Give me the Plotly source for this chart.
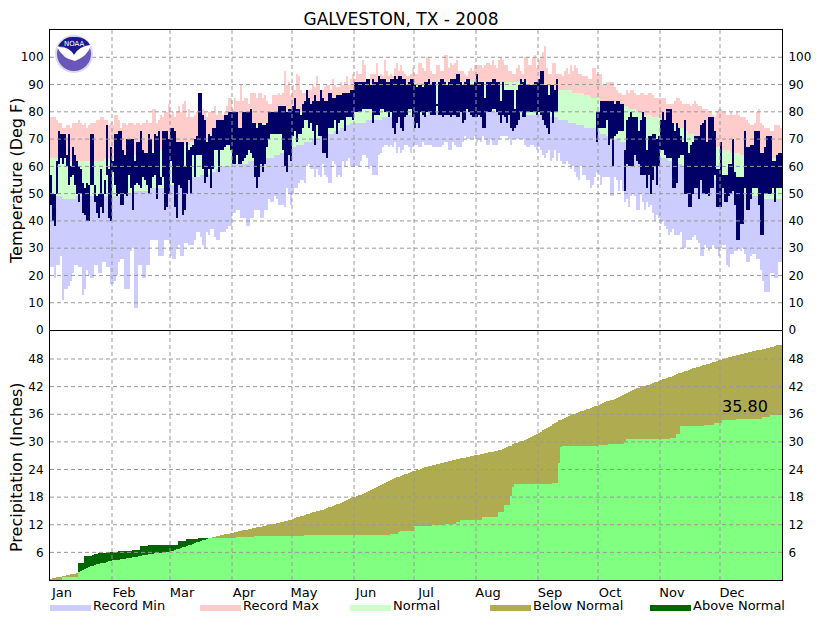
import numpy as np
import plotly.graph_objects as go

FONT = "DejaVu Sans"
W, H = 832, 620
LEFT, RIGHT, TOP, MID, BOTTOM = 50, 782, 30, 330, 580

months = ["Jan", "Feb", "Mar", "Apr", "May", "Jun", "Jul", "Aug", "Sep", "Oct", "Nov", "Dec"]
month_days = [31, 29, 31, 30, 31, 30, 31, 31, 30, 31, 30, 31]
temp_ticks = [0, 10, 20, 30, 40, 50, 60, 70, 80, 90, 100]
precip_ticks = [6, 12, 18, 24, 30, 36, 42, 48]
precip_total = "35.80"
legend_items = [("Record Min", "#CCCCFF", 50), ("Record Max", "#FFCCCC", 200), ("Normal", "#CCFFCC", 350),
                ("Below Normal", "#AFAB50", 490), ("Above Normal", "#006600", 650)]

record_max = [
    78,78,78,77,76,76,74,74,75,75,74,76,76,76,77,76,75,76,74,75,76,76,76,77,77,78,78,77,77,75,76,
    75,79,79,77,74,76,76,75,76,76,76,75,76,76,75,76,76,77,76,76,81,81,76,77,79,78,80,80,83,
    79,80,78,80,82,80,83,84,78,81,78,78,79,80,82,80,81,80,78,80,80,80,82,79,80,80,79,80,82,85,85,
    81,85,84,84,90,84,85,85,83,87,87,87,85,87,87,85,86,84,83,83,86,86,86,87,86,87,95,90,91,86,
    90,88,94,93,88,87,87,85,88,88,90,89,93,90,87,88,89,90,90,88,92,90,89,89,91,90,91,93,90,92,94,
    92,95,94,94,99,97,92,92,94,94,94,98,93,94,93,99,95,93,94,93,96,98,95,97,95,94,93,93,94,96,
    94,94,98,98,96,95,100,100,95,94,94,97,97,95,95,101,101,96,98,97,98,99,95,95,95,94,93,95,96,95,97,
    97,97,97,96,97,98,98,97,99,97,96,99,100,99,97,97,95,95,94,94,96,97,95,94,100,100,97,97,100,101,96,
    99,100,102,104,96,94,94,98,98,94,94,94,93,95,96,94,97,95,97,96,94,94,93,93,93,92,92,96,96,94,
    94,94,90,90,91,91,91,91,89,88,87,87,86,86,88,87,88,88,87,86,86,87,87,86,86,87,87,86,85,85,85,
    85,85,85,83,83,83,83,84,85,85,84,83,83,83,83,82,83,84,83,82,82,81,81,81,80,80,79,78,80,81,
    81,80,80,79,79,80,79,79,80,79,78,78,78,77,76,75,75,76,80,81,76,75,74,74,74,73,73,75,75,75,74,
]
record_min = [
    23,23,19,24,24,27,11,15,15,16,18,21,24,24,23,23,13,15,22,20,19,19,24,24,21,21,25,25,23,23,17,
    17,18,20,25,26,26,15,15,15,29,30,8,8,24,24,19,19,24,24,33,33,33,33,27,27,27,33,33,33,
    27,26,26,30,31,27,27,32,32,31,31,31,33,36,36,34,31,30,36,35,37,37,34,33,33,36,36,36,37,38,38,
    43,43,44,44,41,41,41,38,38,41,41,44,44,44,41,41,44,44,48,47,47,49,48,46,46,46,45,52,50,46,
    50,52,52,54,55,55,54,60,61,59,59,56,59,57,56,61,57,56,54,54,62,61,56,57,56,62,60,62,63,60,60,
    60,60,60,62,64,64,63,59,60,57,57,57,64,65,67,68,68,67,68,67,69,65,67,65,66,68,68,67,65,67,
    68,68,67,67,69,68,68,68,68,67,67,67,67,67,68,69,69,66,66,69,68,67,67,67,69,71,70,70,70,70,71,
    69,70,69,71,70,68,68,70,68,68,68,70,71,71,71,71,70,68,70,70,70,70,70,70,68,67,67,68,68,67,66,
    67,66,64,63,65,66,62,63,66,62,65,62,61,61,62,61,59,60,58,56,55,60,57,57,55,55,52,53,56,58,
    57,53,56,56,56,56,49,49,56,55,51,55,51,47,48,45,49,50,49,44,44,50,47,44,47,45,46,43,40,42,41,
    39,40,38,37,35,36,37,35,35,35,36,30,30,33,33,33,34,35,33,32,27,27,31,30,29,30,31,30,30,27,
    30,31,31,24,23,28,28,29,29,30,29,30,28,25,25,27,28,28,26,26,22,18,14,14,14,21,21,19,19,25,25,
]
normal_high = [
    63,63,63,63,63,63,63,63,62,62,62,62,62,62,62,62,62,62,62,62,62,62,62,62,62,62,62,63,63,63,63,
    63,63,63,63,63,63,64,64,64,64,64,64,64,65,65,65,65,65,65,65,66,66,66,66,66,66,66,67,67,
    67,67,67,67,67,68,68,68,68,68,69,69,69,69,69,70,70,70,70,70,70,71,71,71,71,71,72,72,72,72,72,
    73,73,73,73,73,74,74,74,74,74,75,75,75,75,75,76,76,76,76,76,76,77,77,77,77,78,78,78,79,79,
    79,79,80,80,80,80,81,81,81,81,82,82,82,82,83,83,83,83,83,84,84,84,84,85,85,85,85,86,86,86,87,
    87,87,87,87,87,88,88,88,88,88,88,88,89,89,89,89,89,89,89,89,89,90,90,90,90,90,90,90,90,90,
    90,90,90,90,90,90,90,90,90,90,91,91,91,91,91,91,91,91,91,91,91,91,91,91,91,91,91,91,91,91,91,
    91,91,91,91,91,91,91,91,91,91,91,91,91,91,91,91,91,91,91,91,91,91,91,91,91,91,90,90,90,90,90,
    90,90,90,90,89,89,89,89,88,88,88,88,88,88,88,88,88,87,87,87,87,87,87,86,86,86,85,85,85,85,
    85,84,84,84,84,84,83,83,83,83,83,82,82,82,82,81,81,81,81,80,80,80,80,79,79,79,79,78,78,78,78,
    77,77,77,76,76,76,75,75,75,74,74,74,73,73,72,72,72,71,71,70,70,70,69,69,68,68,68,67,67,67,
    66,66,66,66,66,65,65,65,65,65,64,64,64,64,64,64,64,63,63,63,63,63,63,63,63,63,63,63,63,63,63,
]
normal_low = [
    49,49,49,49,49,49,48,48,48,48,48,48,48,49,49,49,49,49,49,49,49,49,49,49,49,49,49,49,49,49,49,
    49,49,49,49,49,50,50,50,50,50,51,51,51,51,51,51,51,51,51,52,52,52,52,52,52,52,53,53,53,
    53,53,54,54,55,55,55,55,55,56,56,56,56,56,56,57,57,57,57,57,58,58,58,59,59,60,60,60,60,60,60,
    61,61,61,61,61,61,61,61,62,62,62,62,62,62,62,62,63,63,63,63,63,64,64,64,65,65,65,65,66,66,
    67,67,68,68,68,68,69,69,69,69,70,70,70,70,71,71,71,71,72,72,72,73,73,73,74,74,75,75,75,76,76,
    76,76,76,76,76,76,77,77,77,77,77,77,77,77,78,78,78,78,78,78,78,78,78,78,79,79,79,79,79,79,
    79,79,79,79,79,79,79,80,80,80,80,80,80,80,80,80,80,80,80,80,80,80,80,80,80,80,80,80,80,80,80,
    80,80,80,80,80,80,80,80,80,80,80,80,80,80,80,80,80,80,80,80,79,79,79,79,79,79,79,79,79,79,79,
    79,79,79,78,78,78,78,78,78,78,77,77,77,77,77,76,76,76,76,75,75,75,75,74,74,74,74,74,74,73,
    73,72,72,72,71,71,71,71,70,70,70,69,69,69,68,68,67,67,67,66,66,66,66,65,65,65,64,64,64,63,63,
    63,63,63,63,62,62,62,62,62,61,61,60,60,60,60,59,59,59,58,58,57,57,57,56,56,56,55,55,55,54,
    53,53,52,52,52,52,52,51,51,51,51,50,50,50,50,49,49,49,49,49,49,49,48,48,48,48,48,48,48,48,48,
]
# the station stopped reporting after Ike, so most of September is empty
obs_high = [
    57,50,50,62,73,72,72,72,64,72,60,67,64,62,60,59,54,52,54,53,72,72,53,49,50,59,50,55,75,59,67,
    62,72,72,73,73,66,64,70,70,70,70,62,69,69,73,66,65,65,72,70,65,72,71,73,56,73,73,73,70,
    74,74,73,69,69,69,69,60,69,66,67,68,70,71,87,87,79,77,69,72,71,74,74,77,77,77,77,79,79,80,80,
    80,80,80,74,74,80,80,80,80,81,76,76,74,76,76,75,75,76,80,80,80,80,80,82,82,82,82,80,81,81,
    82,85,81,81,79,83,84,88,85,83,84,86,84,84,88,85,84,84,87,87,85,85,86,86,86,87,87,87,87,88,88,
    91,91,91,91,91,91,92,92,90,92,91,91,93,92,92,92,91,91,92,92,93,92,93,93,92,92,90,91,92,92,
    90,89,90,90,89,91,91,92,90,91,91,83,91,92,92,91,90,91,92,92,92,94,94,91,90,91,92,92,90,90,91,
    94,91,91,91,85,91,91,91,92,92,91,91,84,91,88,88,88,88,88,81,88,90,92,91,92,90,90,90,90,91,91,
    92,95,95,90,90,86,90,90,88,92,None,None,None,None,None,None,None,None,None,None,None,None,None,None,None,None,None,None,None,80,
    80,84,84,84,84,84,84,84,83,84,84,83,83,66,77,78,80,78,78,78,73,77,80,78,66,71,71,72,72,70,71,
    77,80,77,81,81,81,76,73,76,74,71,69,77,69,65,68,69,71,71,71,75,76,77,69,78,78,78,73,59,59,
    69,57,57,57,61,61,70,58,56,56,56,56,73,67,67,68,68,73,73,73,65,65,67,71,71,71,62,62,64,65,65,
]
obs_low = [
    46,40,38,50,61,63,61,63,60,53,56,57,53,50,47,50,43,42,40,40,53,53,47,43,41,45,43,50,57,41,40,
    58,53,49,50,46,46,50,49,57,52,44,53,54,53,52,56,55,53,50,52,56,57,48,53,53,56,44,45,50,
    62,54,45,41,53,52,42,44,50,55,50,64,56,64,64,64,59,54,56,59,52,59,66,66,58,66,66,67,68,68,66,
    61,61,64,61,61,62,63,64,66,65,63,56,52,56,61,58,61,67,70,72,72,72,72,72,72,66,60,58,64,62,
    71,73,69,72,72,74,77,77,74,76,73,68,75,71,71,65,65,63,74,74,74,77,72,76,77,77,73,78,78,78,77,
    80,80,80,80,81,81,81,81,81,76,79,79,79,81,81,80,80,78,80,74,72,76,78,74,73,78,79,81,81,78,
    74,76,74,80,79,78,80,80,79,79,79,82,79,79,78,79,79,79,78,79,79,78,78,80,76,77,81,80,79,78,78,
    78,79,78,74,74,80,80,80,81,81,80,79,76,79,78,76,79,74,73,74,75,77,80,78,78,80,80,80,80,80,79,
    80,79,77,75,74,72,80,76,80,80,None,None,None,None,None,None,None,None,None,None,None,None,None,None,None,None,None,None,None,69,
    74,74,74,74,77,68,70,60,71,72,73,73,73,51,61,60,60,60,64,62,61,57,57,57,52,57,50,55,60,53,60,
    66,66,64,63,63,63,52,52,54,63,64,64,50,50,45,45,50,52,52,48,55,50,50,50,49,52,52,57,45,45,
    45,52,47,47,49,50,51,46,33,33,39,39,52,44,44,48,52,52,52,46,35,35,50,50,50,50,52,47,52,52,52,
]
normal_precip = [
    .15,.3,.45,.6,.65,.7,.8,.95,1.0,1.1,1.2,1.3,1.4,1.5,1.8,2.0,2.2,2.4,2.6,2.8,3.0,3.1,3.25,3.4,3.5,3.6,3.7,3.8,3.95,4.05,4.15,
    4.25,4.3,4.4,4.45,4.5,4.6,4.65,4.7,4.8,4.85,4.95,5.0,5.1,5.2,5.25,5.35,5.4,5.5,5.55,5.65,5.7,5.8,5.85,5.9,5.95,6.0,6.05,6.1,6.15,
    6.2,6.35,6.5,6.65,6.8,6.95,7.1,7.25,7.4,7.55,7.7,7.85,8.0,8.15,8.3,8.45,8.6,8.75,8.9,9.05,9.2,9.3,9.4,9.5,9.6,9.7,9.8,9.9,10.0,10.1,10.2,
    10.3,10.4,10.5,10.6,10.7,10.8,10.85,10.95,11.05,11.15,11.25,11.35,11.45,11.5,11.6,11.7,11.8,11.9,12.0,12.1,12.2,12.25,12.35,12.45,12.55,12.65,12.75,12.85,12.95,13.05,
    13.2,13.4,13.6,13.7,13.85,14.0,14.15,14.3,14.4,14.55,14.7,14.8,14.9,15.05,15.2,15.3,15.4,15.6,15.75,15.95,16.1,16.25,16.4,16.6,16.75,16.95,17.15,17.35,17.55,17.75,17.95,
    18.1,18.25,18.4,18.55,18.7,18.9,19.1,19.3,19.5,19.7,19.9,20.1,20.35,20.6,20.8,21.0,21.25,21.5,21.7,21.9,22.1,22.3,22.45,22.6,22.8,22.95,23.1,23.3,23.45,23.6,
    23.75,23.85,24.0,24.15,24.3,24.45,24.6,24.75,24.85,24.95,25.05,25.15,25.25,25.4,25.5,25.6,25.7,25.8,25.9,26.0,26.1,26.2,26.3,26.4,26.5,26.55,26.65,26.75,26.85,26.95,27.05,
    27.15,27.25,27.35,27.45,27.55,27.6,27.7,27.8,27.9,28.0,28.05,28.15,28.3,28.45,28.65,28.8,29.0,29.2,29.45,29.65,29.8,29.95,30.1,30.25,30.4,30.6,30.8,31.0,31.25,31.5,31.75,
    32.0,32.25,32.5,32.8,33.05,33.3,33.55,33.8,34.05,34.35,34.65,34.85,35.05,35.25,35.45,35.6,35.8,35.95,36.1,36.3,36.45,36.6,36.75,36.95,37.1,37.25,37.4,37.55,37.7,37.85,
    38.05,38.25,38.45,38.65,38.8,38.95,39.05,39.2,39.35,39.55,39.75,39.95,40.15,40.35,40.6,40.85,41.05,41.25,41.45,41.65,41.8,41.95,42.1,42.2,42.3,42.45,42.6,42.75,42.9,43.05,43.2,
    43.35,43.55,43.7,43.85,44.05,44.2,44.4,44.55,44.7,44.9,45.05,45.2,45.35,45.5,45.65,45.8,46.0,46.1,46.2,46.35,46.5,46.6,46.75,46.85,47.0,47.15,47.3,47.45,47.55,47.7,
    47.8,47.95,48.1,48.2,48.35,48.5,48.6,48.7,48.85,48.95,49.05,49.15,49.25,49.35,49.45,49.55,49.65,49.75,49.85,49.95,50.05,50.15,50.25,50.4,50.5,50.6,50.7,50.8,50.95,51.05,51.15,
]
obs_precip = [
    0,0,0,0,0,0,.6,.6,.6,.6,.6,.6,.6,.6,3.6,3.6,3.6,5.2,5.2,5.3,5.3,5.5,5.7,5.7,5.8,5.9,5.9,5.9,6.0,6.0,6.0,
    6.0,6.0,6.0,6.2,6.2,6.2,6.2,6.2,6.2,6.3,6.6,6.6,6.6,6.6,7.3,7.3,7.4,7.4,7.5,7.5,7.5,7.5,7.5,7.5,7.5,7.5,7.5,7.5,7.5,
    7.5,7.5,7.5,7.5,8.4,8.4,8.4,8.4,9.0,9.0,9.0,9.0,9.0,9.0,9.1,9.1,9.2,9.2,9.2,9.2,9.2,9.2,9.2,9.2,9.2,9.2,9.2,9.2,9.2,9.2,9.2,
    9.2,9.2,9.3,9.3,9.3,9.3,9.4,9.4,9.4,9.4,9.4,9.5,9.5,9.5,9.5,9.5,9.6,9.6,9.6,9.6,9.6,9.6,9.6,9.6,9.6,9.6,9.6,9.6,9.6,9.6,
    9.6,9.6,9.6,9.6,9.6,9.6,9.7,9.7,9.7,9.7,9.7,9.7,9.7,9.7,9.7,9.7,9.7,9.7,9.7,9.7,9.7,9.7,9.7,9.7,9.7,9.7,9.7,9.7,9.7,9.7,9.7,
    9.7,9.7,9.7,9.7,9.7,9.7,9.7,9.7,9.7,9.7,9.85,9.85,9.85,9.85,9.85,9.85,9.85,9.85,10.0,10.0,10.0,10.0,10.4,10.6,10.6,10.6,10.6,10.6,10.6,10.6,
    11.7,11.7,11.7,11.7,11.7,11.7,11.7,11.7,11.7,11.9,11.9,11.9,11.9,11.9,11.9,12.2,12.2,12.2,12.2,12.2,12.2,12.5,12.5,13.0,13.0,13.0,13.0,13.0,13.0,13.0,13.0,
    13.0,13.0,13.0,13.7,13.7,13.7,13.7,13.7,13.7,13.7,13.7,14.7,14.7,14.7,16.2,16.2,16.2,18.3,20.3,20.8,20.8,20.8,20.8,20.8,20.8,20.8,20.8,20.8,20.8,20.8,20.8,
    20.8,20.8,20.8,20.8,20.8,20.8,20.8,21.0,21.0,21.0,25.4,28.9,29.1,29.1,29.1,29.1,29.1,29.1,29.1,29.1,29.1,29.1,29.1,29.1,29.1,29.1,29.1,29.1,29.1,29.1,
    29.3,29.3,29.3,29.3,29.3,29.5,29.5,29.5,29.5,29.5,29.5,29.5,29.5,30.0,30.6,30.6,30.6,30.6,30.6,30.6,30.6,30.6,30.6,30.6,30.6,30.6,30.6,30.6,30.6,30.6,30.6,
    30.6,30.6,30.6,30.6,30.6,30.9,30.9,30.9,31.8,31.8,33.4,33.4,33.4,33.4,33.4,33.4,33.4,33.4,33.4,33.4,33.4,33.4,33.6,33.6,33.6,33.6,33.6,34.1,34.1,34.1,
    34.2,34.7,34.7,34.7,34.7,34.7,34.7,34.7,34.9,34.9,34.9,34.9,34.9,34.9,34.9,34.9,34.9,34.9,34.9,34.9,34.9,35.3,35.3,35.3,35.3,35.8,35.8,35.8,35.8,35.8,35.8,
]

series = dict(record_max=record_max, record_min=record_min, normal_high=normal_high, normal_low=normal_low,
              obs_high=obs_high, obs_low=obs_low, normal_precip=normal_precip, obs_precip=obs_precip)
bad = {k: len(v) for k, v in series.items() if len(v) != 366}
if bad:
    raise SystemExit(f"wrong lengths: {bad}")

days = np.arange(366)
month_starts = np.cumsum([0] + month_days[:-1])
record_max, record_min = np.array(record_max, float), np.array(record_min, float)
normal_high, normal_low = np.array(normal_high, float), np.array(normal_low, float)
obs_high, obs_low = np.array(obs_high, float), np.array(obs_low, float)
normal_precip, obs_precip = np.array(normal_precip, float), np.array(obs_precip, float)


# xref/yref "paper" runs over the plot area, not the whole page
def px_x(x):
    return (x - LEFT) / (RIGHT - LEFT)


def px_y(y):
    return (BOTTOM - y) / (BOTTOM - TOP)


def band(low, high, color, xaxis, yaxis):
    return go.Bar(x=days, y=high - low, base=low, width=1, marker=dict(color=color, line_width=0),
                  xaxis=xaxis, yaxis=yaxis, showlegend=False)


fig = go.Figure()
fig.add_trace(band(record_min, normal_low, "#CCCCFF", "x2", "y"))
fig.add_trace(band(normal_low, normal_high, "#CCFFCC", "x2", "y"))
fig.add_trace(band(normal_high, record_max, "#FFCCCC", "x2", "y"))
fig.add_trace(band(obs_low, obs_high, "#000066", "x2", "y3"))

zero = np.zeros(366)
fig.add_trace(band(zero, normal_precip, "#AFAB50", "x", "y2"))
fig.add_trace(band(zero, obs_precip, "#006600", "x", "y2"))
fig.add_trace(band(zero, np.minimum(normal_precip, obs_precip), "#80FF80", "x", "y4"))

split = (BOTTOM - MID) / (BOTTOM - TOP)
frame = dict(showline=True, linecolor="black", linewidth=1, mirror=True, showgrid=False, zeroline=False, ticks="",
             tickfont=dict(family=FONT, size=12, color="black"))
x_range = [-0.5, 365.5]
temp_range = [0, 110]
precip_range = [0, 54.3]

fig.update_layout(
    width=W, height=H, margin=dict(l=LEFT, r=W - RIGHT, t=TOP, b=H - BOTTOM),
    paper_bgcolor="white", plot_bgcolor="white", barmode="overlay", bargap=0, showlegend=False,
    title=dict(text="GALVESTON, TX - 2008", x=401 / W, y=1 - 19 / H, xanchor="center", yanchor="middle",
               font=dict(family=FONT, size=17, color="black")),
    xaxis=dict(frame, domain=[0, 1], range=x_range, anchor="y2", tickmode="array", mirror=False,
               tickvals=month_starts + 5.5, ticktext=months, tickfont=dict(family=FONT, size=13, color="black")),
    xaxis2=dict(frame, domain=[0, 1], range=x_range, anchor="y", showticklabels=False),
    yaxis=dict(frame, domain=[split, 1], range=temp_range, anchor="x2", tickmode="array", tickvals=temp_ticks,
               ticklabelstandoff=3),
    yaxis2=dict(frame, domain=[0, split], range=precip_range, anchor="x", tickmode="array", tickvals=precip_ticks,
                ticklabelstandoff=3),
    yaxis3=dict(frame, range=temp_range, anchor="x2", overlaying="y", side="right", tickmode="array",
                tickvals=temp_ticks, ticklabelstandoff=3),
    yaxis4=dict(frame, range=precip_range, anchor="x", overlaying="y2", side="right", tickmode="array",
                tickvals=precip_ticks, ticklabelstandoff=3),
)

# grid sits over the bars in the original, so it goes in as shapes
grid = dict(color="#999999", width=1, dash="4px,3px")
for v in temp_ticks[1:]:
    fig.add_shape(type="line", xref="x2 domain", yref="y", x0=0, x1=1, y0=v, y1=v, line=grid, layer="above")
for v in precip_ticks:
    fig.add_shape(type="line", xref="x domain", yref="y2", x0=0, x1=1, y0=v, y1=v, line=grid, layer="above")
for start in month_starts[1:]:
    fig.add_shape(type="line", xref="x", yref="paper", x0=start - 0.5, x1=start - 0.5, y0=0, y1=1,
                  line=grid, layer="above")

# axis titles and total
fig.add_annotation(text="Temperature (Deg F)", xref="paper", yref="paper", x=px_x(16), y=px_y(181),
                   showarrow=False, textangle=-90, font=dict(family=FONT, size=16, color="black"),
                   xanchor="center", yanchor="middle")
fig.add_annotation(text="Precipitation (Inches)", xref="paper", yref="paper", x=px_x(16), y=px_y(467),
                   showarrow=False, textangle=-90, font=dict(family=FONT, size=16, color="black"),
                   xanchor="center", yanchor="middle")
fig.add_annotation(text=precip_total, xref="x", yref="y2", x=347, y=37.6, showarrow=False,
                   font=dict(family=FONT, size=16, color="black"), xanchor="center", yanchor="middle")

# legend along the bottom
for label, color, x0 in legend_items:
    fig.add_shape(type="rect", xref="paper", yref="paper", x0=px_x(x0), x1=px_x(x0 + 41), y0=px_y(611), y1=px_y(605),
                  fillcolor=color, line_width=0, layer="above")
    fig.add_annotation(text=label, xref="paper", yref="paper", x=px_x(x0 + 41), y=px_y(605), showarrow=False,
                       xanchor="left", yanchor="middle", font=dict(family=FONT, size=13, color="black"))


# NOAA logo
def blob(*pts):
    # quadratic path through px points: M a Q c b Q c b ...
    out = f"M {px_x(pts[0][0])} {px_y(pts[0][1])}"
    for c, p in zip(pts[1::2], pts[2::2]):
        out += f" Q {px_x(c[0])} {px_y(c[1])} {px_x(p[0])} {px_y(p[1])}"
    return out + " Z"


def disc(cx, cy, r, color):
    fig.add_shape(type="circle", xref="paper", yref="paper", x0=px_x(cx - r), x1=px_x(cx + r), y0=px_y(cy + r),
                  y1=px_y(cy - r), fillcolor=color, line_width=0, layer="above")


disc(74, 54, 19, "#D8D8F0")
disc(74, 54, 17, "#6A55B8")
fig.add_shape(type="path", xref="paper", yref="paper", layer="above", line_width=0, fillcolor="#1A1A8C",
              path=blob((58, 46), (64, 36), (74, 37), (85, 36), (90, 45), (79, 46), (74, 55), (69, 46), (58, 46)))
fig.add_shape(type="path", xref="paper", yref="paper", layer="above", line_width=0, fillcolor="white",
              path=blob((57, 47), (69, 46), (74, 55), (79, 46), (91, 45), (88, 56), (75, 61), (63, 59), (57, 47)))
fig.add_annotation(text="NOAA", xref="paper", yref="paper", x=px_x(74), y=px_y(44), showarrow=False,
                   font=dict(family=FONT, size=7, color="white"), xanchor="center", yanchor="middle")

fig.write_html("out.html", config=dict(displayModeBar=False), post_script="document.body.style.margin='0';")
